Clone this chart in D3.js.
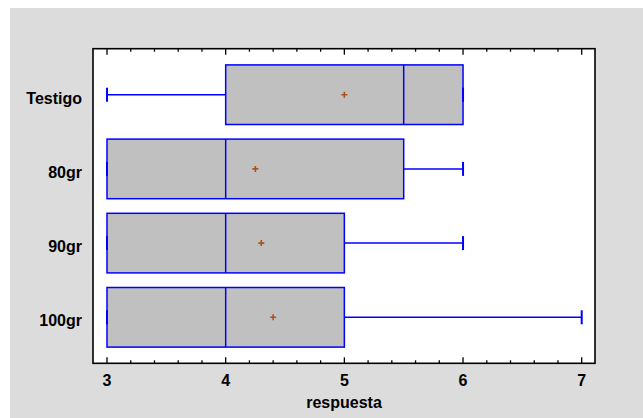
<!DOCTYPE html>
<html><head><meta charset="utf-8">
<script src="https://cdn.jsdelivr.net/npm/d3@7/dist/d3.min.js"></script>
<style>html,body{margin:0;padding:0;background:#fff;}svg{display:block;}</style>
</head><body>
<script>
const categories = ["Testigo", "80gr", "90gr", "100gr"];
const mins    = [3, 3, 3, 3];
const q1s     = [4, 3, 3, 3];
const medians = [5.5, 4, 4, 4];
const q3s     = [6, 5.5, 5, 5];
const maxs    = [6, 6, 6, 7];
const means   = [5.0, 4.25, 4.3, 4.4];
const xTicks  = [3, 4, 5, 6, 7];
const xLabel  = "respuesta";

(function () {
const W = 643, H = 418;
const pL = 93, pR = 595, pT = 48.7, pB = 363.3;
const font = "'Liberation Sans', Arial, sans-serif";

const svg = d3.select("body").append("svg").attr("width", W).attr("height", H);
svg.append("rect").attr("x", 10).attr("y", 8).attr("width", W - 10).attr("height", H - 8).attr("fill", "#dcdcdc");
svg.append("rect").attr("x", pL).attr("y", pT).attr("width", pR - pL).attr("height", pB - pT).attr("fill", "#fff");

const x = d3.scaleLinear().domain([2.882, 7.112]).range([pL, pR]);
const y = d3.scalePoint().domain(categories).range([pT, pB]).padding(0.62);

const data = categories.map((c, i) => ({c, min: mins[i], q1: q1s[i], med: medians[i], q3: q3s[i], max: maxs[i], mean: means[i]}));
const hh = 29.8, cap = 7;
const blue = "#0000ff";

const g = svg.append("g");
data.forEach(d => {
  const cy = y(d.c);
  g.append("line").attr("x1", x(d.min)).attr("x2", x(d.q1)).attr("y1", cy).attr("y2", cy).attr("stroke", blue).attr("stroke-width", 1.5);
  g.append("line").attr("x1", x(d.q3)).attr("x2", x(d.max)).attr("y1", cy).attr("y2", cy).attr("stroke", blue).attr("stroke-width", 1.5);
  g.append("rect").attr("x", x(d.q1)).attr("y", cy - hh).attr("width", x(d.q3) - x(d.q1)).attr("height", 2 * hh)
    .attr("fill", "#c0c0c0").attr("stroke", blue).attr("stroke-width", 1.5);
  g.append("line").attr("x1", x(d.med)).attr("x2", x(d.med)).attr("y1", cy - hh).attr("y2", cy + hh).attr("stroke", blue).attr("stroke-width", 1.5);
  [d.min, d.max].forEach(v => g.append("line").attr("x1", x(v)).attr("x2", x(v)).attr("y1", cy - cap).attr("y2", cy + cap).attr("stroke", blue).attr("stroke-width", 2));
  const mx = x(d.mean);
  g.append("path").attr("d", `M${mx-3},${cy}H${mx+3}M${mx},${cy-3}V${cy+3}`).attr("stroke", "#b0501a").attr("stroke-width", 1.6).attr("fill", "none");
});

const minor = d3.range(3, 7.001, 0.2).map(v => +v.toFixed(1));
minor.forEach(v => {
  const major = xTicks.includes(v);
  const len = major ? 6 : 3;
  svg.append("line").attr("x1", x(v)).attr("x2", x(v)).attr("y1", pB).attr("y2", pB - len).attr("stroke", "#000").attr("stroke-width", 1.3);
  svg.append("line").attr("x1", x(v)).attr("x2", x(v)).attr("y1", pT).attr("y2", pT + len).attr("stroke", "#000").attr("stroke-width", 1.3);
});

svg.append("rect").attr("x", pL).attr("y", pT).attr("width", pR - pL).attr("height", pB - pT)
  .attr("fill", "none").attr("stroke", "#000").attr("stroke-width", 1.6);

svg.append("g").selectAll("text").data(xTicks).join("text")
  .attr("x", d => x(d)).attr("y", 386).attr("text-anchor", "middle")
  .attr("font-family", font).attr("font-weight", "bold").attr("font-size", 16).attr("fill", "#000").text(d => d);

svg.append("text").attr("x", (pL + pR) / 2).attr("y", 407.5).attr("text-anchor", "middle")
  .attr("font-family", font).attr("font-weight", "bold").attr("font-size", 16).attr("fill", "#000").text(xLabel);

svg.append("g").selectAll("text").data(categories).join("text")
  .attr("x", 82).attr("y", d => y(d) + 9).attr("text-anchor", "end")
  .attr("font-family", font).attr("font-weight", "bold").attr("font-size", 16).attr("fill", "#000").text(d => d);
})();
</script>
</body></html>
